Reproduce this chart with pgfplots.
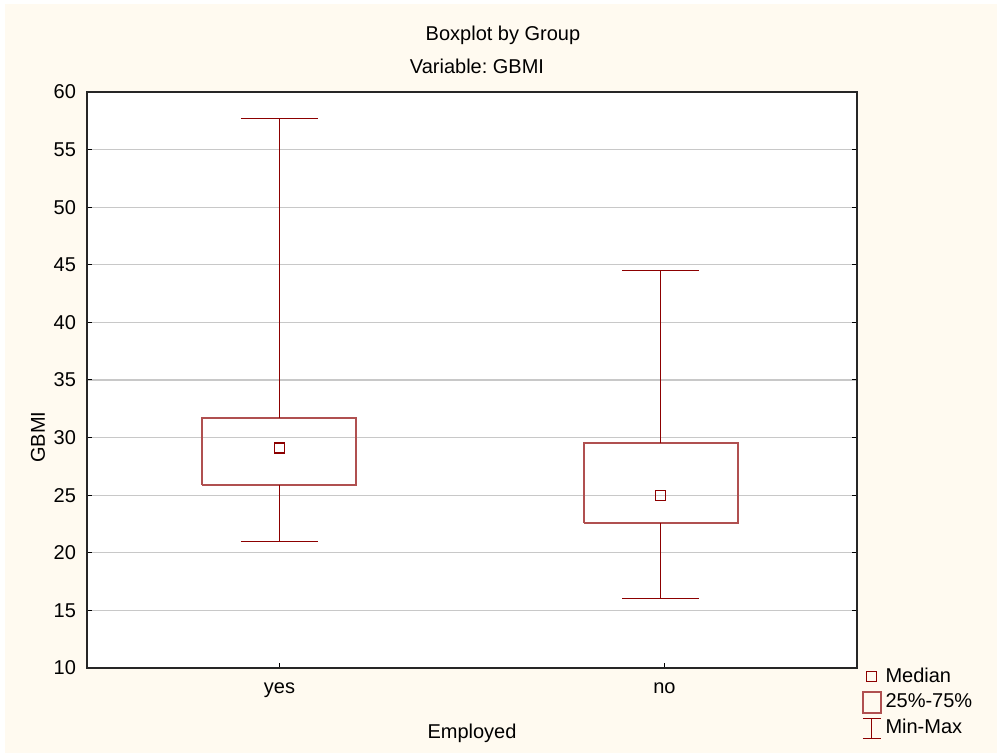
\documentclass[border=0pt]{standalone}
\usepackage{pgfplots}
\pgfplotsset{compat=1.18}
\usepackage{fontspec}
\setmainfont{Liberation Sans}
\frenchspacing
\definecolor{bg}{RGB}{255,250,240}
\definecolor{boxred}{RGB}{176,80,80}
\definecolor{whc}{RGB}{140,0,0}
\definecolor{gridc}{RGB}{200,200,200}
\begin{document}
\begin{tikzpicture}[font=\fontsize{10}{12}\selectfont]
\fill[white] (-43.5pt,-42.5pt) rectangle (455pt,334pt);
\fill[bg] (-41pt,-42.5pt) rectangle (455pt,332pt);
\node at (208pt,316.5pt) {Boxplot by Group};
\node at (195pt,301pt) {Variable: GBMI};
\begin{axis}[
  at={(0,0)}, anchor=south west,
  scale only axis, width=385pt, height=288pt,
  xmin=0.5, xmax=2.5, ymin=10, ymax=60,
  xtick={1,2}, xticklabels={yes,no},
  ytick={10,15,...,60},
  ymajorgrids, grid style={gridc, line width=0.6pt},
  axis background/.style={fill=white},
  axis line style={black!85, line width=0.75pt},
  tick style={black, line width=0.5pt},
  major tick length=2.5pt,
  xtick pos=bottom,
  tick align=inside,
  /pgf/number format/assume math mode=true,
  yticklabel style={xshift=-2pt},
  xticklabel style={yshift=-4pt},
  xlabel={Employed}, ylabel={GBMI},
  xlabel style={at={(axis description cs:0.5,0)}, anchor=center, yshift=-32.5pt},
  ylabel style={at={(axis description cs:-0.0636,0.401)}, anchor=center},
  clip=false,
  legend style={at={(axis description cs:1.006,0.008)}, anchor=north west, draw=none, fill=none,
    font=\fontsize{10}{12}\selectfont, row sep=0.3pt, inner sep=0pt,
    /tikz/every even column/.append style={column sep=2pt}},
  legend cell align=left,
]
% group yes
\addplot[draw=boxred, line width=1pt, forget plot] coordinates {(0.8,25.9) (1.2,25.9) (1.2,31.7) (0.8,31.7) (0.8,25.9)};
\addplot[draw=whc, line width=0.6pt, forget plot] coordinates {(1,31.7) (1,57.7)};
\addplot[draw=whc, line width=0.6pt, forget plot] coordinates {(0.9,57.7) (1.1,57.7)};
\addplot[draw=whc, line width=0.6pt, forget plot] coordinates {(1,25.9) (1,21.0)};
\addplot[draw=whc, line width=0.6pt, forget plot] coordinates {(0.9,21.0) (1.1,21.0)};
% group no
\addplot[draw=boxred, line width=1pt, forget plot] coordinates {(1.79,22.55) (2.19,22.55) (2.19,29.5) (1.79,29.5) (1.79,22.55)};
\addplot[draw=whc, line width=0.6pt, forget plot] coordinates {(1.99,29.5) (1.99,44.5)};
\addplot[draw=whc, line width=0.6pt, forget plot] coordinates {(1.89,44.5) (2.09,44.5)};
\addplot[draw=whc, line width=0.6pt, forget plot] coordinates {(1.99,22.55) (1.99,16.05)};
\addplot[draw=whc, line width=0.6pt, forget plot] coordinates {(1.89,16.05) (2.09,16.05)};
% medians
\addplot[draw=whc, only marks, mark=square, mark size=2.5pt, mark options={draw=whc, line width=0.6pt}, forget plot] coordinates {(1,29.1) (1.99,25.0)};
% legend
\addlegendimage{legend image code/.code={\draw[whc, line width=0.6pt] (2pt,-2.5pt) rectangle (7pt,2.5pt);}}
\addlegendentry{Median}
\addlegendimage{legend image code/.code={\draw[boxred, line width=0.75pt] (0pt,-5.25pt) rectangle (9pt,5.25pt);}}
\addlegendentry{25\%-75\%}
\addlegendimage{legend image code/.code={\draw[whc, line width=0.6pt] (0pt,-5pt)--(9pt,-5pt) (4.5pt,-5pt)--(4.5pt,5pt) (0pt,5pt)--(9pt,5pt);}}
\addlegendentry{Min-Max}
\end{axis}
\end{tikzpicture}
\end{document}
